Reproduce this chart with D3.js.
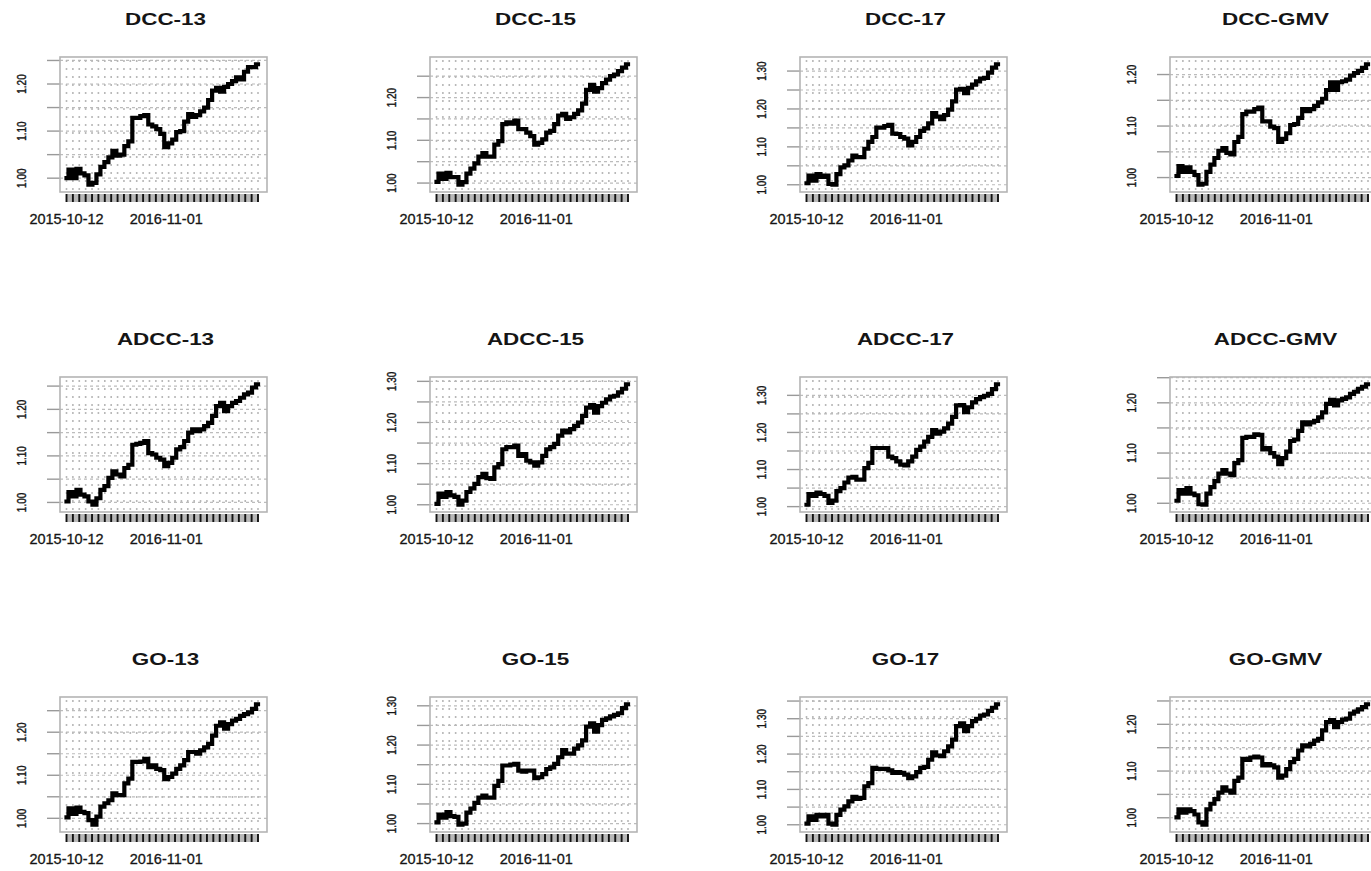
<!DOCTYPE html>
<html>
<head>
<meta charset="utf-8">
<script src="https://cdn.jsdelivr.net/npm/d3@7"></script>
<style>
  html, body { margin: 0; padding: 0; background: #fff; overflow: hidden; }
  text { font-family: "Liberation Sans", Arial, sans-serif; fill: #151515; }
</style>
</head>
<body>
<div id="chart"></div>
<script>
// ---- data (cumulative portfolio value, sampled every ~2 weeks) ----
var titles = ["DCC-13", "DCC-15", "DCC-17", "DCC-GMV",
              "ADCC-13", "ADCC-15", "ADCC-17", "ADCC-GMV",
              "GO-13", "GO-15", "GO-17", "GO-GMV"];

var dcc13 = [1.000,1.018,1.000,1.020,1.010,1.006,0.986,0.990,1.008,1.024,1.034,1.044,1.058,1.048,1.050,1.068,1.078,1.128,1.128,1.132,1.134,1.114,1.110,1.104,1.094,1.066,1.074,1.082,1.098,1.100,1.120,1.136,1.130,1.134,1.142,1.150,1.166,1.186,1.192,1.184,1.194,1.200,1.206,1.214,1.210,1.226,1.236,1.236,1.242];
var dcc15 = [1.003,1.022,1.010,1.024,1.014,1.014,0.996,1.002,1.022,1.034,1.046,1.062,1.070,1.062,1.062,1.090,1.098,1.138,1.142,1.139,1.146,1.126,1.126,1.118,1.110,1.090,1.094,1.102,1.118,1.122,1.138,1.158,1.162,1.150,1.154,1.162,1.170,1.186,1.218,1.230,1.214,1.222,1.234,1.242,1.250,1.254,1.262,1.270,1.278];
var dcc17 = [1.004,1.024,1.011,1.028,1.021,1.024,1.002,1.000,1.028,1.046,1.051,1.064,1.077,1.073,1.073,1.095,1.113,1.126,1.151,1.151,1.155,1.158,1.135,1.134,1.126,1.122,1.104,1.113,1.126,1.142,1.149,1.162,1.189,1.180,1.173,1.184,1.198,1.220,1.251,1.253,1.242,1.256,1.264,1.273,1.280,1.282,1.296,1.309,1.318];
var dccGmv = [1.003,1.022,1.011,1.020,1.011,1.005,0.986,0.988,1.011,1.025,1.038,1.052,1.057,1.048,1.045,1.069,1.079,1.123,1.128,1.128,1.133,1.136,1.109,1.109,1.099,1.096,1.069,1.075,1.086,1.102,1.104,1.116,1.133,1.129,1.133,1.139,1.146,1.153,1.170,1.185,1.170,1.185,1.187,1.190,1.198,1.203,1.207,1.213,1.220];

var adcc13 = [1.002,1.022,1.013,1.027,1.017,1.013,1.002,0.995,1.009,1.027,1.035,1.053,1.067,1.060,1.056,1.074,1.081,1.124,1.126,1.128,1.132,1.106,1.103,1.096,1.092,1.078,1.085,1.096,1.114,1.119,1.132,1.150,1.157,1.153,1.157,1.164,1.171,1.186,1.207,1.214,1.196,1.207,1.214,1.218,1.225,1.232,1.236,1.247,1.254];
var adcc15 = [1.002,1.027,1.019,1.031,1.023,1.019,1.000,1.010,1.031,1.040,1.051,1.067,1.075,1.065,1.063,1.091,1.099,1.135,1.140,1.140,1.144,1.119,1.123,1.107,1.103,1.095,1.103,1.119,1.135,1.140,1.148,1.168,1.180,1.176,1.184,1.192,1.200,1.216,1.236,1.242,1.224,1.240,1.248,1.256,1.263,1.265,1.273,1.282,1.293];
var adcc17 = [1.005,1.034,1.029,1.038,1.034,1.029,1.010,1.016,1.042,1.050,1.065,1.078,1.080,1.073,1.073,1.104,1.118,1.158,1.158,1.158,1.158,1.135,1.131,1.122,1.113,1.111,1.122,1.135,1.153,1.162,1.175,1.188,1.206,1.197,1.202,1.211,1.224,1.242,1.273,1.274,1.255,1.268,1.281,1.290,1.295,1.299,1.304,1.317,1.330];
var adccGmv = [1.005,1.026,1.019,1.030,1.019,1.016,0.998,0.997,1.019,1.032,1.044,1.059,1.066,1.059,1.056,1.080,1.086,1.130,1.132,1.132,1.137,1.136,1.107,1.110,1.100,1.093,1.078,1.090,1.103,1.124,1.127,1.144,1.161,1.157,1.161,1.164,1.171,1.181,1.198,1.206,1.195,1.205,1.208,1.211,1.218,1.222,1.228,1.232,1.237];

var go13 = [1.002,1.023,1.010,1.025,1.015,1.012,0.996,0.985,1.004,1.027,1.035,1.042,1.058,1.054,1.054,1.081,1.092,1.131,1.131,1.132,1.138,1.119,1.123,1.115,1.112,1.091,1.096,1.104,1.115,1.123,1.135,1.154,1.154,1.150,1.158,1.165,1.173,1.192,1.215,1.223,1.208,1.219,1.227,1.231,1.238,1.242,1.246,1.254,1.265];
var go15 = [1.003,1.023,1.015,1.029,1.019,1.017,0.997,1.000,1.028,1.038,1.053,1.066,1.071,1.066,1.066,1.096,1.109,1.148,1.148,1.150,1.152,1.135,1.132,1.135,1.135,1.116,1.118,1.126,1.139,1.143,1.152,1.169,1.187,1.178,1.178,1.191,1.199,1.212,1.247,1.255,1.234,1.251,1.264,1.268,1.273,1.277,1.281,1.294,1.304];
var go17 = [1.003,1.024,1.014,1.028,1.024,1.028,1.003,1.000,1.028,1.043,1.052,1.066,1.079,1.073,1.076,1.109,1.118,1.161,1.158,1.158,1.158,1.154,1.147,1.149,1.147,1.142,1.132,1.137,1.149,1.161,1.164,1.184,1.205,1.196,1.194,1.208,1.222,1.241,1.279,1.287,1.265,1.279,1.293,1.300,1.309,1.312,1.322,1.331,1.341];
var goGmv = [1.001,1.018,1.011,1.018,1.014,1.007,0.990,0.985,1.018,1.030,1.040,1.054,1.065,1.058,1.054,1.079,1.086,1.126,1.124,1.129,1.131,1.129,1.112,1.115,1.112,1.108,1.086,1.090,1.104,1.119,1.126,1.144,1.155,1.153,1.158,1.165,1.169,1.187,1.205,1.209,1.194,1.205,1.210,1.212,1.223,1.227,1.232,1.237,1.243];

var seriesList = [dcc13, dcc15, dcc17, dccGmv, adcc13, adcc15, adcc17, adccGmv, go13, go15, go17, goGmv];

// x axis: observation index, labels at two major ticks
var xLabelText = ["2015-10-12", "2016-11-01"];
var xLabelIndex = [0, 25];

// ---- layout ----
var svgWidth = 1371;
var svgHeight = 871;
var colLeft = [60, 430, 800, 1170];
var rowTop = [57, 377, 697];
var boxW = 207;
var boxH = 135;

var svg = d3.select("#chart")
  .append("svg")
  .attr("width", svgWidth)
  .attr("height", svgHeight);

seriesList.forEach(function(values, k) {
  var left = colLeft[k % 4];
  var top = rowTop[Math.floor(k / 4)];
  var n = values.length;

  var g = svg.append("g")
    .attr("transform", `translate(${left}, ${top})`);

  var x = d3.scaleLinear()
    .domain([0, n - 1])
    .range([6.5, 198]);

  var ext = d3.extent(values);
  var pad = (ext[1] - ext[0]) * 0.06;
  var y = d3.scaleLinear()
    .domain([ext[0] - pad, ext[1] + pad])
    .range([boxH, 0]);

  // y ticks every 0.05
  var lo = y.domain()[0], hi = y.domain()[1];
  var yTicks = d3.range(Math.ceil(lo / 0.05 - 1e-9) * 0.05, hi, 0.05);

  // horizontal grid
  g.selectAll(".hgrid")
    .data(yTicks)
    .enter()
    .append("line")
    .attr("x1", 0).attr("x2", boxW)
    .attr("y1", d => y(d)).attr("y2", d => y(d))
    .attr("stroke", "#bcbcbc")
    .attr("stroke-width", 1.2)
    .attr("stroke-dasharray", "3,3");

  // vertical grid + x ticks
  var xTicks = d3.range(0, n - 1 + 1e-6, (n - 1) / 30);
  g.selectAll(".vgrid")
    .data(xTicks)
    .enter()
    .append("line")
    .attr("x1", d => x(d)).attr("x2", d => x(d))
    .attr("y1", 3).attr("y2", boxH)
    .attr("stroke", "#b8b8b8")
    .attr("stroke-width", 1.6)
    .attr("stroke-dasharray", "2,6");

  g.append("rect")
    .attr("x", x(0))
    .attr("y", boxH + 2)
    .attr("width", x(n - 1) - x(0))
    .attr("height", 8)
    .attr("fill", "#b8b8b8");

  g.selectAll(".xtick")
    .data(xTicks)
    .enter()
    .append("line")
    .attr("x1", d => x(d)).attr("x2", d => x(d))
    .attr("y1", boxH + 2).attr("y2", boxH + 10)
    .attr("stroke", "#111")
    .attr("stroke-width", 1.9);

  // x labels
  g.selectAll(".xlab")
    .data(xLabelText)
    .enter()
    .append("text")
    .attr("x", (d, i) => x(xLabelIndex[i]))
    .attr("y", boxH + 32)
    .attr("text-anchor", "middle")
    .style("font-size", "14.5px")
    .style("stroke", "#151515")
    .style("stroke-width", "0.3px")
    .text(d => d);

  // y ticks on the left
  g.selectAll(".ytick")
    .data(yTicks)
    .enter()
    .append("line")
    .attr("x1", -13).attr("x2", 0)
    .attr("y1", d => y(d)).attr("y2", d => y(d))
    .attr("stroke", "#9a9a9a")
    .attr("stroke-width", 1.4);

  g.selectAll(".ylab")
    .data(yTicks.filter(d => Math.round(d * 100) % 10 === 0))
    .enter()
    .append("text")
    .attr("transform", d => `translate(-34, ${y(d)}) scale(1.3, 1) rotate(-90)`)
    .attr("text-anchor", "middle")
    .style("font-size", "10px")
    .style("stroke", "#151515")
    .style("stroke-width", "0.3px")
    .text(d => d.toFixed(2));

  // the series line (stepped, like the daily xts line at this resolution)
  var line = d3.line()
    .x((d, i) => x(i))
    .y(d => y(d))
    .curve(d3.curveStep);

  g.append("path")
    .datum(values)
    .attr("d", line)
    .attr("fill", "none")
    .attr("stroke", "#000")
    .attr("stroke-width", 4.2)
    .attr("stroke-linejoin", "miter")
    .attr("stroke-linecap", "square");

  // box
  g.append("rect")
    .attr("x", 0).attr("y", 0)
    .attr("width", boxW).attr("height", boxH)
    .attr("fill", "none")
    .attr("stroke", "#b4b4b4")
    .attr("stroke-width", 1.6);

  // title
  g.append("text")
    .attr("transform", `translate(${boxW / 2 + 2}, -32) scale(1.32, 1)`)
    .attr("text-anchor", "middle")
    .style("font-size", "17px")
    .style("font-weight", "bold")
    .text(titles[k]);
});
</script>
</body>
</html>
